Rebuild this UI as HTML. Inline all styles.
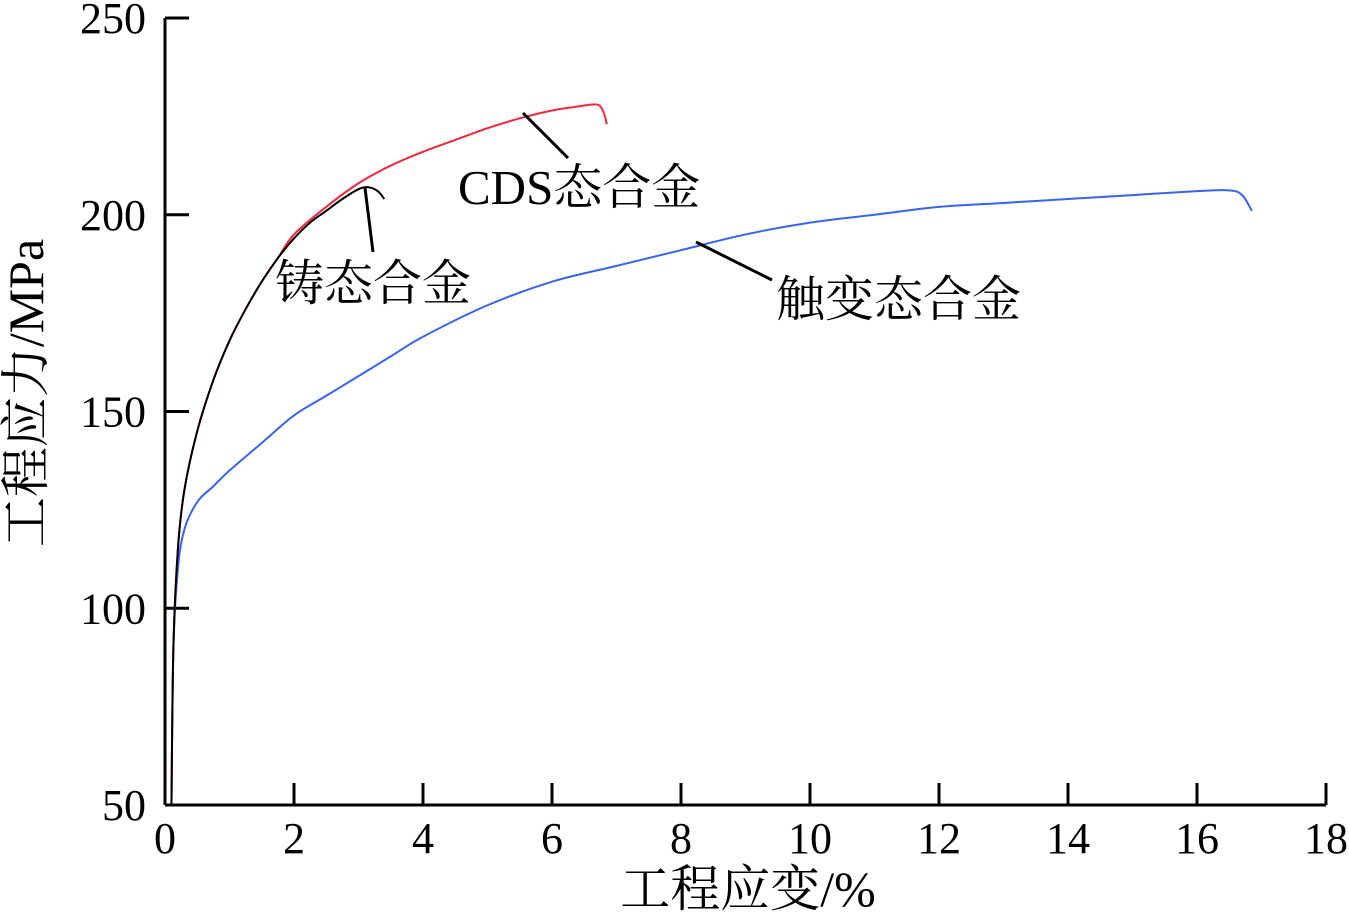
<!DOCTYPE html>
<html><head><meta charset="utf-8"><style>
body{margin:0;background:#fff}
svg text{font-family:"Liberation Serif","Noto Serif CJK SC",serif;fill:#000}
</style></head><body>
<svg id="c" width="1349" height="912"></svg>
<script>
const xTicks=[0,2,4,6,8,10,12,14,16,18];
const yTicks=[50,100,150,200,250];
const castX=[0.1,0.13,0.2,0.3,0.5,0.75,1,1.25,1.5,1.75,2,2.25,2.5,2.75,3,3.15,3.3,3.4];
const castY=[50,90,115,130,145,158,168,176,183,189,194,198,201,204,206.5,207,206,204];
const cdsX=[0.1,0.13,0.2,0.3,0.5,0.75,1,1.25,1.5,1.75,2,2.5,3,3.5,4,4.5,5,5.5,6,6.4,6.7,6.8,6.85];
const cdsY=[50,90,115,130,145,158,168,176,183,189,195,202,208,212.5,216,219,222,224.5,226.5,227.5,228,226,223];
const thxX=[0.1,0.13,0.2,0.3,0.5,0.75,1,1.5,2,2.5,3,3.5,4,5,6,7,8,9,10,11,12,13,14,15,16,16.5,16.7,16.85];
const thxY=[50,90,110,120,127,131,135,142,149,154,159,164,169,177,183,187,191,195,198,200,202,203,204,205,206,206.2,205,201];
const NS="http://www.w3.org/2000/svg";
const svg=document.getElementById('c');
const X0=165,XS=64.5,Y0=805,YS=3.935;
const sx=v=>X0+v*XS, sy=v=>Y0-(v-50)*YS;
function el(t,a,p){const e=document.createElementNS(NS,t);for(const k in a)e.setAttribute(k,a[k]);(p||svg).appendChild(e);return e;}
let e;
e=el('line',{x1:X0,y1:Y0,x2:sx(18),y2:Y0,stroke:'#000','stroke-width':3});


e=el('line',{x1:X0,y1:Y0,x2:X0,y2:sy(250),stroke:'#000','stroke-width':3});


xTicks.forEach(v=>{
 e=el('line',{x1:sx(v),y1:Y0,x2:sx(v),y2:Y0-22,stroke:'#000','stroke-width':3});
 
 
 e=el('text',{x:sx(v),y:853,'text-anchor':'middle','font-size':44});e.textContent=v;
 
 
});
yTicks.forEach(v=>{
 e=el('line',{x1:X0,y1:sy(v),x2:X0+24,y2:sy(v),stroke:'#000','stroke-width':3});
 
 
 e=el('text',{x:146,y:sy(v)+15,'text-anchor':'end','font-size':44});e.textContent=v;
 
 
});
function series(xs,ys,col,name){
 const p=xs.map((x,i)=>[sx(x),sy(ys[i])]);
 let d='M'+p[0][0]+','+p[0][1];
 for(let i=0;i<p.length-1;i++){
  const a=p[Math.max(0,i-1)],b=p[i],c=p[i+1],f=p[Math.min(p.length-1,i+2)];
  d+=` C${b[0]+(c[0]-a[0])/6},${b[1]+(c[1]-a[1])/6} ${c[0]-(f[0]-b[0])/6},${c[1]-(f[1]-b[1])/6} ${c[0]},${c[1]}`;
 }
 e=el('path',{d,fill:'none',stroke:col,'stroke-width':2});
 
 
}
series(thxX,thxY,'#3a63f0','thixo-curve');
series(cdsX,cdsY,'#f0283c','cds-curve');
series(castX,castY,'#000','cast-curve');
function ann(x1,y1,x2,y2,tx,ty,txt,name){
 e=el('line',{x1,y1,x2,y2,stroke:'#000','stroke-width':3});
 
 
 e=el('text',{x:tx,y:ty,'font-size':49});e.textContent=txt;
 
 
}
ann(523,113,568,158,458,204,'CDS态合金','cds');
ann(365,188,373,252,275,300,'铸态合金','cast');
ann(696,242,772,280,776,316,'触变态合金','thixo');
e=el('text',{x:748,y:906,'text-anchor':'middle','font-size':50});e.textContent='工程应变/%';


e=el('text',{x:0,y:0,'text-anchor':'middle','font-size':50,transform:'translate(43,393) rotate(-90)'});e.textContent='工程应力/MPa';


</script>
</body></html>
